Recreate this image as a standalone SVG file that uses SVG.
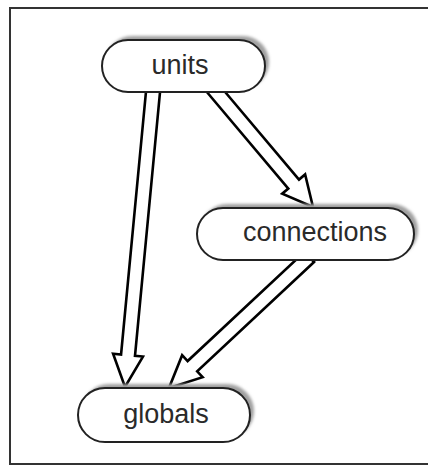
<svg xmlns="http://www.w3.org/2000/svg" width="428" height="466" viewBox="0 0 428 466">
<style>
.frame{fill:none;stroke:#333;stroke-width:2}
.node{fill:#fff;stroke:#222;stroke-width:2}
.shadow{fill:#a0a0a0;filter:url(#blur)}
.lbl{font-family:"Liberation Sans",Arial,sans-serif;font-size:27px;fill:#2a2a2a;text-anchor:middle}
.arrow{fill:#fff;stroke:#000;stroke-width:2.6;stroke-linejoin:miter}
</style>
<defs>
<filter id="blur" x="-20%" y="-40%" width="140%" height="180%"><feGaussianBlur stdDeviation="1.6"/></filter>
</defs>
<rect x="0" y="0" width="428" height="466" fill="#fff"/>
<path class="frame" d="M432,8 H10 V464 H432"/>
<g id="connectors">
<polygon class="arrow" transform="translate(125,387) rotate(95.42)" points="-300,-7 -32,-7 -32,-15 0,0 -32,15 -32,7 -300,7"/>
<polygon class="arrow" transform="translate(313,207) rotate(49.85)" points="-156,-7 -30,-7 -30,-15 0,0 -30,15 -30,7 -156,7"/>
<polygon class="arrow" transform="translate(169,388) rotate(136.95)" points="-192,-7 -32,-7 -32,-15 0,0 -32,15 -32,7 -192,7"/>
</g>
<g id="units">
<rect class="shadow" x="106" y="36" width="163" height="52" rx="26"/>
<rect class="node" x="102" y="40" width="163" height="52" rx="26"/>
<text class="lbl" x="180" y="74">units</text>
</g>
<g id="connections">
<rect class="shadow" x="201" y="204" width="217" height="52" rx="26"/>
<rect class="node" x="197" y="208" width="217" height="52" rx="26"/>
<text class="lbl" x="315" y="241">connections</text>
</g>
<g id="globals">
<rect class="shadow" x="82" y="384" width="172" height="54" rx="27"/>
<rect class="node" x="78" y="388" width="172" height="54" rx="27"/>
<text class="lbl" x="166" y="422.5">globals</text>
</g>
</svg>
